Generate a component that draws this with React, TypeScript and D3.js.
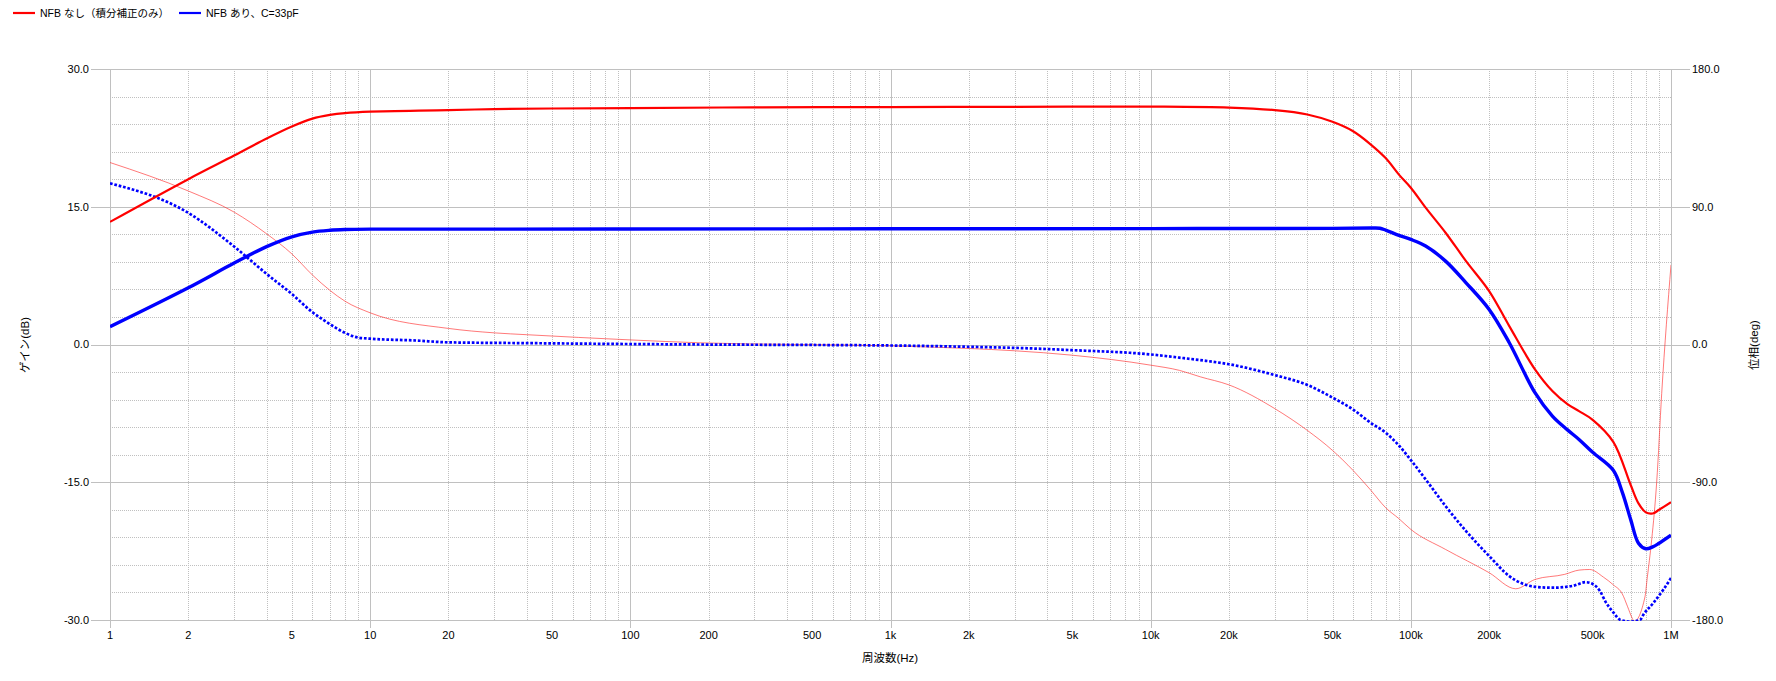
import React from "react";
import * as d3 from "d3";

// ---- data ----
const gainNoNfbFreq = [1, 2, 3, 4, 5, 6, 7, 8, 10, 20, 30, 50, 100, 300, 1000, 3000, 10000, 20000, 30000, 40000, 50000, 60000, 70000, 80000, 90000, 100000, 114000, 136000, 163000, 200000, 239000, 300000, 350000, 400000, 443000, 500000, 600000, 700000, 750000, 800000, 850000, 900000, 1000000];
const gainNoNfb = [13.35, 18.0, 20.57, 22.43, 23.74, 24.6, 25.0, 25.2, 25.36, 25.52, 25.64, 25.7, 25.75, 25.82, 25.85, 25.88, 25.9, 25.8, 25.52, 25.05, 24.25, 23.22, 21.8, 20.3, 18.5, 17.07, 14.9, 12.17, 9.08, 5.82, 2.0, -2.71, -5.07, -6.5, -7.25, -8.2, -10.6, -15.3, -17.3, -18.28, -18.4, -18.0, -17.17];

const gainNfbFreq = [1, 2, 3, 4, 5, 6, 7, 8, 10, 20, 100, 1000, 10000, 50000, 70000, 76000, 80000, 90000, 100000, 114000, 136000, 163000, 200000, 239000, 300000, 350000, 400000, 443000, 500000, 600000, 650000, 700000, 750000, 800000, 850000, 900000, 1000000];
const gainNfb = [1.94, 6.18, 8.87, 10.66, 11.73, 12.24, 12.44, 12.52, 12.56, 12.56, 12.58, 12.6, 12.62, 12.65, 12.68, 12.66, 12.46, 11.88, 11.44, 10.72, 9.08, 6.72, 3.82, 0.19, -5.25, -7.8, -9.3, -10.34, -11.74, -13.7, -16.1, -19.07, -21.64, -22.24, -22.04, -21.64, -20.77];

const phaseNoNfbFreq = [1, 2, 3, 4, 5, 6, 7, 8, 10, 20, 30, 40, 100, 185, 1000, 2000, 3000, 5000, 10000, 12900, 15500, 20000, 30000, 40000, 50000, 60000, 70000, 80000, 90000, 100000, 136000, 200000, 253000, 300000, 390000, 443000, 487000, 550000, 600000, 650000, 680000, 710000, 721000, 794000, 811000, 826000, 843000, 881000, 921000, 1000000];
const phaseNoNfb = [118.9, 100.3, 86.5, 72.3, 59.2, 45.4, 35.4, 28.3, 20.7, 10.5, 7.6, 6.4, 3.0, 1.1, -0.9, -2.6, -4.1, -7.0, -13.5, -16.9, -21.1, -26.4, -41.9, -56.1, -69.2, -82.3, -95, -106.6, -113.8, -120.8, -133.9, -149.1, -159.6, -153.5, -150.2, -147.4, -147, -152, -157, -163, -171, -179, -181, -165, -152, -141, -127.5, -90, -32, 52];

const phaseNfbFreq = [1, 2, 3, 4, 5, 6, 7, 8, 9, 10, 15, 20, 40, 100, 185, 1000, 2000, 3000, 5000, 10000, 12900, 15500, 20000, 30000, 40000, 50000, 60000, 70000, 80000, 90000, 100000, 114000, 136000, 163000, 200000, 239000, 300000, 350000, 417000, 470000, 500000, 533000, 560000, 600000, 640000, 700000, 760000, 783000, 855000, 934000, 1000000];
const phaseNfb = [105.3, 86, 64, 46.1, 33, 21.1, 13.3, 7.6, 4.5, 3.8, 2.6, 1.4, 0.9, 0.3, 0, -0.65, -1.5, -2.2, -3.7, -6.5, -8.6, -10.2, -12.9, -20, -26.4, -34.7, -42.5, -51.1, -57.6, -66, -75.5, -88.1, -105.6, -121.9, -138.2, -151.3, -158.3, -158.9, -157.8, -155.3, -156.5, -161, -168, -175, -180, -181, -180, -176.5, -168.9, -160.2, -152.6];

const gainTicks = [30, 15, 0, -15, -30];
const phaseTicks = [180, 90, 0, -90, -180];
const freqTickValues = [1, 2, 5, 10, 20, 50, 100, 200, 500, 1e3, 2e3, 5e3, 1e4, 2e4, 5e4, 1e5, 2e5, 5e5, 1e6];
const freqTickLabels = ["1", "2", "5", "10", "20", "50", "100", "200", "500", "1k", "2k", "5k", "10k", "20k", "50k", "100k", "200k", "500k", "1M"];

const legendLabels = ["NFB なし（積分補正のみ）", "NFB あり、C=33pF"];

const W = 1776;
const H = 681;
const L = 110;
const R = 1671;
const T = 69;
const B = 620;
const FONT = '"Liberation Sans", Arial, "Noto Sans CJK JP", sans-serif';
const GRID = "#c0c0c0";

export default function App() {
  const x = d3.scaleLog().domain([1, 1e6]).range([L, R]);
  const yG = d3.scaleLinear().domain([-30, 30]).range([B, T]);
  const yP = d3.scaleLinear().domain([-180, 180]).range([B, T]);

  const mk = (fs: number[], vs: number[], y: d3.ScaleLinear<number, number>, curve: d3.CurveFactory) =>
    d3
      .line<number>()
      .x((_, i) => x(fs[i]))
      .y((v) => y(v))
      .curve(curve)(vs) || "";

  const smooth = d3.curveCatmullRom.alpha(0.5);

  const minorFreqs: number[] = [];
  for (let e = 0; e < 6; e++) for (let m = 2; m <= 9; m++) minorFreqs.push(m * Math.pow(10, e));
  const decades = [1, 10, 100, 1e3, 1e4, 1e5, 1e6];
  const minorGain: number[] = [];
  for (let g = -30; g <= 30; g += 3) if (g % 15 !== 0) minorGain.push(g);

  const crisp = (v: number) => Math.round(v) + 0.5;

  return (
    <svg
      width={W}
      height={H}
      style={{ position: "absolute", left: 0, top: 0, display: "block", background: "#fff" }}
      fontFamily={FONT}
    >
      <defs>
        <clipPath id="plotClip">
          <rect x={L} y={T} width={R - L} height={B - T + 1} />
        </clipPath>
      </defs>
      <rect x={0} y={0} width={W} height={H} fill="#fff" />

      {/* minor grid */}
      {minorFreqs.map((f) => (
        <line key={"mf" + f} x1={crisp(x(f))} x2={crisp(x(f))} y1={T} y2={B} stroke={GRID} strokeDasharray="1,1" />
      ))}
      {minorGain.map((g) => (
        <line key={"mg" + g} x1={L} x2={R} y1={crisp(yG(g))} y2={crisp(yG(g))} stroke={GRID} strokeDasharray="1,1" />
      ))}
      {/* major grid */}
      {decades.map((f) => (
        <line key={"df" + f} x1={crisp(x(f))} x2={crisp(x(f))} y1={T} y2={B + 8} stroke={GRID} />
      ))}
      {gainTicks.map((g) => (
        <line key={"dg" + g} x1={L - 19} x2={R + 19} y1={crisp(yG(g))} y2={crisp(yG(g))} stroke={GRID} />
      ))}

      {/* series */}
      <g clipPath="url(#plotClip)" fill="none">
        <path d={mk(phaseNoNfbFreq, phaseNoNfb, yP, d3.curveMonotoneX)} stroke="#ff2020" strokeOpacity={0.6} strokeWidth={1} />
        <path d={mk(phaseNfbFreq, phaseNfb, yP, d3.curveMonotoneX)} stroke="#0000ff" strokeWidth={2.7} strokeDasharray="2.7,1.8" />
        <path d={mk(gainNfbFreq, gainNfb, yG, smooth)} stroke="#0000ff" strokeWidth={3.4} />
        <path d={mk(gainNoNfbFreq, gainNoNfb, yG, smooth)} stroke="#ff0000" strokeWidth={2.2} />
      </g>

      {/* left axis labels */}
      {gainTicks.map((g) => (
        <text key={"lg" + g} x={89} y={yG(g)} dy="0.35em" textAnchor="end" fontSize={11} fill="#000">
          {g.toFixed(1)}
        </text>
      ))}
      {/* right axis labels */}
      {phaseTicks.map((p) => (
        <text key={"rp" + p} x={1692} y={yP(p)} dy="0.35em" textAnchor="start" fontSize={11} fill="#000">
          {p.toFixed(1)}
        </text>
      ))}
      {/* x labels */}
      {freqTickValues.map((f, i) => (
        <text key={"xt" + f} x={x(f)} y={639} textAnchor="middle" fontSize={11} fill="#000">
          {freqTickLabels[i]}
        </text>
      ))}

      {/* axis titles */}
      <text x={890} y={662} textAnchor="middle" fontSize={11.5} fill="#000">
        周波数(Hz)
      </text>
      <text transform={`translate(29,345) rotate(-90)`} textAnchor="middle" fontSize={11.5} fill="#000">
        ゲイン(dB)
      </text>
      <text transform={`translate(1758,345) rotate(-90)`} textAnchor="middle" fontSize={11.5} fill="#000">
        位相(deg)
      </text>

      {/* legend */}
      <line x1={13} x2={35} y1={13} y2={13} stroke="#ff0000" strokeWidth={2.2} />
      <text x={40} y={17} fontSize={10.5} fill="#000">
        {legendLabels[0]}
      </text>
      <line x1={179} x2={201} y1={13} y2={13} stroke="#0000ff" strokeWidth={2.2} />
      <text x={206} y={17} fontSize={10.5} fill="#000">
        {legendLabels[1]}
      </text>
    </svg>
  );
}
